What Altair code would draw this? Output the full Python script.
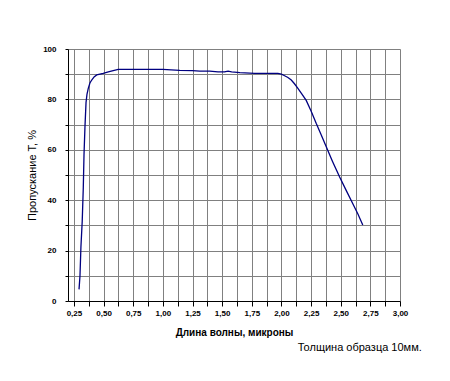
import altair as alt
import pandas as pd

# Wavelength (microns) and transmission (%)
wavelength = [0.293, 0.301, 0.309, 0.320, 0.329, 0.335, 0.343, 0.352, 0.360,
              0.371, 0.385, 0.400, 0.420, 0.442, 0.470, 0.497, 0.540, 0.581,
              0.623, 0.700, 0.800, 0.900, 1.000, 1.070, 1.143, 1.250, 1.311,
              1.395, 1.465, 1.520, 1.550, 1.580, 1.650, 1.774, 1.900, 1.970,
              2.000, 2.027, 2.055, 2.083, 2.110, 2.139, 2.170, 2.209, 2.250,
              2.293, 2.335, 2.378, 2.430, 2.490, 2.545, 2.600, 2.645, 2.686]
transmission = [4.6, 9.9, 21.4, 31.7, 45.0, 58.0, 69.0, 78.7, 82.0,
                84.4, 86.5, 87.7, 88.9, 89.7, 90.0, 90.3, 90.9, 91.4,
                91.9, 91.9, 91.9, 91.9, 91.9, 91.7, 91.5, 91.4, 91.2,
                91.2, 90.9, 90.9, 91.2, 90.9, 90.6, 90.3, 90.3, 90.3,
                90.0, 89.4, 88.7, 87.7, 86.2, 84.4, 82.3, 79.6, 75.4,
                70.5, 66.0, 61.2, 55.5, 49.3, 44.0, 38.8, 34.5, 30.2]

x_ticks = [0.25 + 0.125 * i for i in range(23)]
y_ticks = [10 * i for i in range(11)]

df = pd.DataFrame({"w": wavelength, "t": transmission})

label_font = "Liberation Sans"

chart = alt.Chart(df).mark_line(color="#000080", strokeWidth=1.3).encode(
    x=alt.X("w:Q",
            scale=alt.Scale(domain=[0.2, 3.0], nice=False, zero=False),
            axis=alt.Axis(values=x_ticks,
                          labelExpr="datum.value % 0.25 == 0 ? replace(format(datum.value, '.2f'), '.', ',') : ''",
                          title="Длина волны, микроны",
                          titleFontWeight="bold", titleFontSize=10,
                          titleFont=label_font, titlePadding=10,
                          labelFont=label_font, labelFontSize=8,
                          labelFontWeight="bold", labelColor="#000000",
                          labelPadding=3,
                          domainColor="#000000", tickColor="#000000",
                          tickSize=5, gridColor="#808080", gridWidth=1,
                          gridOpacity=1, labelFlush=False, labelOverlap=False)),
    y=alt.Y("t:Q",
            scale=alt.Scale(domain=[0, 100], nice=False),
            axis=alt.Axis(values=y_ticks,
                          labelExpr="datum.value % 20 == 0 ? datum.label : ''",
                          title="Пропускание T, %",
                          titleFontWeight="normal", titleFontSize=11,
                          titleFont=label_font, titlePadding=5,
                          labelFont=label_font, labelFontSize=8,
                          labelFontWeight="bold", labelColor="#000000",
                          labelPadding=9,
                          domainColor="#000000", tickColor="#000000",
                          tickSize=3, gridColor="#808080", gridWidth=1,
                          gridOpacity=1, labelOverlap=False)),
).properties(
    width=332,
    height=252,
    padding={"left": 60, "top": 41, "right": 40, "bottom": 60},
    autosize=alt.AutoSizeParams(type="none"),
    title=alt.TitleParams("Толщина образца 10мм.", orient="bottom",
                          anchor="end", fontSize=11, fontWeight="normal",
                          font=label_font, dx=14, offset=5, color="#000000"),
).configure_view(stroke=None).configure(background="white")

chart.save("out.html", embed_options={"renderer": "svg", "actions": False})
